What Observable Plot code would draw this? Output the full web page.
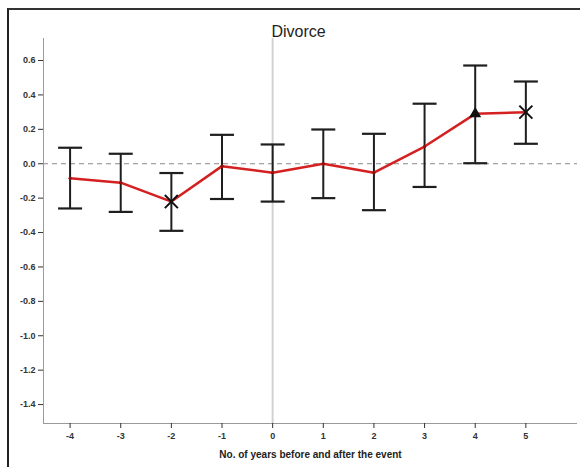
<!DOCTYPE html>
<html><head><meta charset="utf-8">
<script src="https://cdn.jsdelivr.net/npm/d3@7"></script>
<script src="https://cdn.jsdelivr.net/npm/@observablehq/plot@0.6"></script>
<style>
html,body{margin:0;padding:0;background:#fff;}
#wrap{position:relative;width:580px;height:467px;overflow:hidden;}
#border{position:absolute;left:7px;top:8px;right:-5px;bottom:-5px;border-top:2px solid #333;border-left:2px solid #222;pointer-events:none;}
svg{display:block}
</style></head><body><div id="wrap"><div id="border"></div></div>
<script>
const years = [-4, -3, -2, -1, 0, 1, 2, 3, 4, 5];
const means = [-0.085, -0.11, -0.22, -0.014, -0.052, 0.0, -0.052, 0.10, 0.29, 0.30];
const lower = [-0.26, -0.28, -0.39, -0.205, -0.22, -0.20, -0.27, -0.135, 0.003, 0.116];
const upper = [0.093, 0.058, -0.054, 0.168, 0.112, 0.199, 0.174, 0.349, 0.571, 0.478];
const markers = ["none", "none", "times", "none", "none", "none", "none", "none", "triangle", "times"];
const yTicks = [0.6, 0.4, 0.2, 0.0, -0.2, -0.4, -0.6, -0.8, -1.0, -1.2, -1.4];
const xTicks = [-4, -3, -2, -1, 0, 1, 2, 3, 4, 5];
const title = "Divorce";
const xLabel = "No. of years before and after the event";
const xDomain = [-4.525, 6.02];
const yDomain = [-1.51, 0.728];

const data = years.map((x, i) => ({x, mean: means[i], lo: lower[i], hi: upper[i], marker: markers[i]}));
const capSymbol = {draw(ctx, size) { const r = Math.sqrt(size / Math.PI); ctx.moveTo(-r, 0); ctx.lineTo(r, 0); }};
const FONT = "'Liberation Sans', Arial, sans-serif";

const chart = Plot.plot({
  width: 580,
  height: 467,
  marginLeft: 43,
  marginRight: 3,
  marginTop: 38,
  marginBottom: 44,
  style: {fontFamily: FONT, fontSize: "9px", background: "transparent", color: "#222"},
  x: {type: "linear", domain: xDomain},
  y: {type: "linear", domain: yDomain},
  marks: [
    Plot.ruleX([0], {stroke: "#d2d2d2", strokeWidth: 2}),
    Plot.ruleY([0], {stroke: "#8a8a8a", strokeDasharray: "5,4", strokeWidth: 1}),
    Plot.ruleX([xDomain[0]], {stroke: "#9a9a9a", strokeWidth: 1}),
    Plot.ruleY([yDomain[0]], {stroke: "#9a9a9a", strokeWidth: 1}),
    Plot.axisY({ticks: yTicks, tickSize: 5, tickPadding: 3, tickFormat: d => d.toFixed(1), fontWeight: "bold", fontSize: 9, label: null, color: "#333"}),
    Plot.axisX({ticks: xTicks, tickSize: 5, tickPadding: 4, tickFormat: d => String(d), fontWeight: "bold", fontSize: 9, label: null, color: "#333"}),
    Plot.ruleX(data, {x: "x", y1: "lo", y2: "hi", stroke: "#1e1e1e", strokeWidth: 2}),
    Plot.dot(data, {x: "x", y: "lo", symbol: capSymbol, r: 12, stroke: "#1e1e1e", strokeWidth: 2.2}),
    Plot.dot(data, {x: "x", y: "hi", symbol: capSymbol, r: 12, stroke: "#1e1e1e", strokeWidth: 2.2}),
    Plot.line(data, {x: "x", y: "mean", stroke: "#d42020", strokeWidth: 2.5}),
    Plot.dot(data, {x: "x", y: "mean", r: 1.6, fill: "#8a1010"}),
    Plot.dot(data.filter(d => d.marker === "times"), {x: "x", y: "mean", symbol: "times", r: 6, stroke: "#111", strokeWidth: 2}),
    Plot.dot(data.filter(d => d.marker === "triangle"), {x: "x", y: "mean", symbol: "triangle", r: 3.5, fill: "#111", stroke: "#111"}),
    Plot.text([title], {frameAnchor: "top", dx: -12, dy: -2, lineAnchor: "bottom", fontSize: 16, fill: "#222"}),
    Plot.text([xLabel], {frameAnchor: "bottom", dy: 34, fontSize: 10, fontWeight: "bold", fill: "#222"})
  ]
});
document.getElementById("wrap").prepend(chart);
</script>
</body></html>
